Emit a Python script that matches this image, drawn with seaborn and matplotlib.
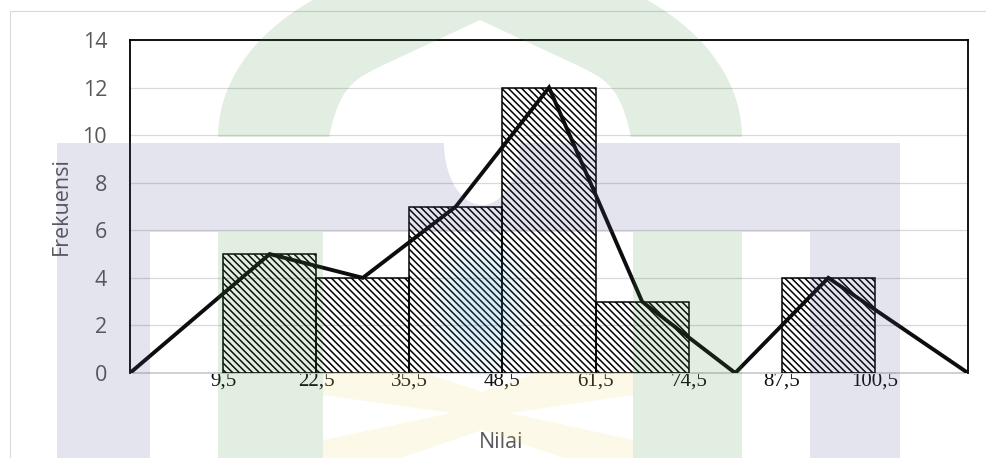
import numpy as np
import pandas as pd
import matplotlib
matplotlib.use("Agg")
import matplotlib.pyplot as plt
from matplotlib.patches import Polygon, Ellipse
from matplotlib.lines import Line2D
import seaborn as sns

# Frequency distribution of scores (class boundaries, midpoints, counts)
class_edges = [9.5, 22.5, 35.5, 48.5, 61.5, 74.5, 87.5, 100.5]
edge_labels = ["9,5", "22,5", "35,5", "48,5", "61,5", "74,5", "87,5", "100,5"]
class_mids = [16, 29, 42, 55, 68, 81, 94]
frequencies = [5, 4, 7, 12, 3, 0, 4]

# Frequency polygon, closed at both ends of the axis
poly_x = [-3.5, 16, 29, 42, 55, 68, 81, 94, 113.5]
poly_y = [0, 5, 4, 7, 12, 3, 0, 4, 0]

y_ticks = [0, 2, 4, 6, 8, 10, 12, 14]

HATCH = "\\" * 5

sns.set_theme(style="white")
plt.rcParams["font.family"] = ["Open Sans", "DejaVu Sans"]
plt.rcParams["hatch.linewidth"] = 1.1
plt.rcParams["hatch.color"] = "black"

W, H = 987, 458
fig = plt.figure(figsize=(W / 100, H / 100), dpi=100)
fig.patch.set_facecolor("white")


def fx(x):
    return x / W


def fy(y):
    return 1 - y / H


ax = fig.add_axes([fx(130), fy(373), 838 / W, 333 / H])
ax.set_facecolor("none")

df = pd.DataFrame({"nilai": class_mids, "frekuensi": frequencies})
sns.histplot(data=df, x="nilai", weights="frekuensi", bins=class_edges, ax=ax,
             stat="count", fill=True, facecolor=(1, 1, 1, 0),
             edgecolor="black", linewidth=1.1, hatch=HATCH, zorder=3)
for p in ax.patches:
    p.set_hatch(HATCH)
    p.set_facecolor((1, 1, 1, 0))
    p.set_edgecolor("black")
    if p.get_height() == 0:
        p.set_visible(False)

sns.lineplot(x=poly_x, y=poly_y, sort=False, estimator=None, ax=ax,
             color="#0d0d0d", linewidth=2.8, solid_joinstyle="miter", zorder=4)

ax.set_xlim(-3.5, 113.5)
ax.set_ylim(0, 14)
ax.set_yticks(y_ticks)
ax.set_xticks(class_edges, labels=edge_labels)
ax.yaxis.grid(True, color="#d9d9d9", linewidth=0.9)
ax.xaxis.grid(False)
ax.set_axisbelow(True)
ax.set_xlabel("")
ax.set_ylabel("")

ax.tick_params(axis="y", length=0, pad=16.5, labelsize=15.5, labelcolor="#595959")
ax.tick_params(axis="x", length=0, pad=-1, labelsize=15, labelcolor="#111111")
for lab in ax.get_xticklabels():
    lab.set_fontfamily("Liberation Serif")

for side in ["left", "top", "right"]:
    ax.spines[side].set_color("black")
    ax.spines[side].set_linewidth(1.3)
ax.spines["bottom"].set_color("#d0d0d0")
ax.spines["bottom"].set_linewidth(1.4)
ax.spines["bottom"].set_zorder(2)

fig.text(fx(61), fy(206), "Frekuensi", rotation=90, ha="center", va="center",
         fontsize=15.5, color="#595959")
fig.text(fx(501), fy(442), "Nilai", ha="center", va="center",
         fontsize=15.5, color="#595959")

# chart area frame
fig.add_artist(Line2D([fx(9.5), fx(9.5), 1.0], [0.0, fy(11), fy(11)],
                      transform=fig.transFigure, color="#d9d9d9", linewidth=0.8))

# faint watermark logo laid over the chart
A = 0.15


def tint(rgb):
    c = (np.array(rgb) / 255.0 - (1 - A)) / A
    return tuple(np.clip(c, 0, 1))


def add_shape(points, rgb):
    pts = [(fx(x), fy(y)) for x, y in points]
    fig.add_artist(Polygon(pts, closed=True, transform=fig.transFigure,
                           facecolor=tint(rgb), edgecolor="none", alpha=A,
                           zorder=20))


green = (226, 238, 225)
lavender = (228, 228, 239)
yellow = (253, 249, 232)
cyan = (228, 243, 251)

# green arch: elliptical outer edge, pointed dome inside
t = np.linspace(np.pi, 0, 80)
outer = [(480 + 262 * np.cos(a), 137 - 178 * np.sin(a)) for a in t]
u = np.linspace(1, -1, 81)
inner = [(480 + 151 * uu, 137 - 117 * (1 - 0.6 * abs(uu) - 0.4 * abs(uu) ** 14))
         for uu in u]
add_shape(outer + inner, green)
add_shape([(218, 232), (323, 232), (323, 460), (218, 460)], green)
add_shape([(633, 232), (742, 232), (742, 460), (633, 460)], green)

tb = np.linspace(np.pi, 2 * np.pi, 40)
bowl = [(482 + 38 * np.cos(a), 143 - 62 * np.sin(a)) for a in tb]
band = ([(57, 143)] + bowl + [(900, 143), (900, 460), (810, 460), (810, 232),
                              (150, 232), (150, 460), (57, 460)])
add_shape(band, lavender)

add_shape([(323, 372), (423, 372), (482, 392), (540, 372), (633, 372),
           (633, 395), (510, 413), (633, 440), (633, 460), (570, 460),
           (482, 430), (395, 460), (323, 460), (323, 440), (452, 413),
           (323, 395)], yellow)

for k, s in enumerate(np.linspace(1.0, 0.35, 6)):
    e = Ellipse((fx(480), fy(305)), 2 * 52 * s / W, 2 * 72 * s / H,
                transform=fig.transFigure, facecolor=tint(cyan),
                edgecolor="none", alpha=A / 4, zorder=20)
    fig.add_artist(e)

fig.savefig("out.png", dpi=100)
